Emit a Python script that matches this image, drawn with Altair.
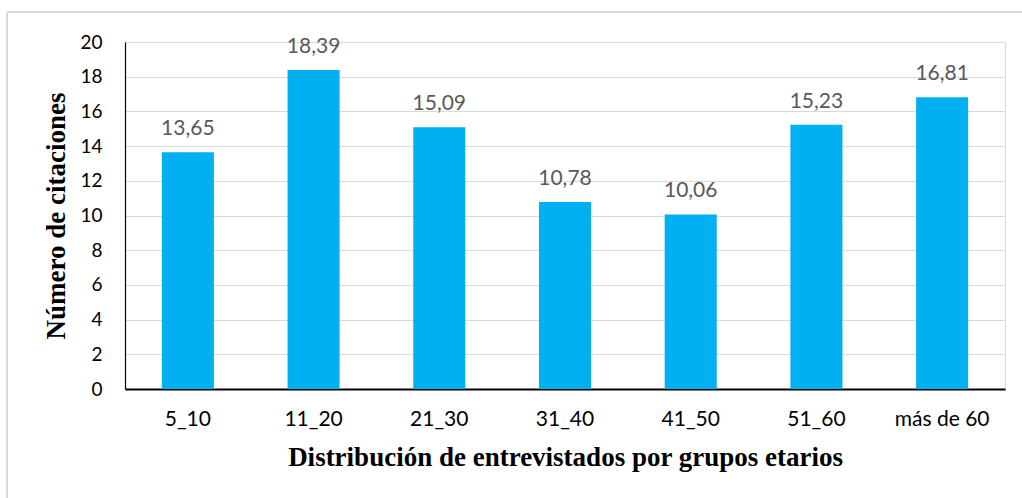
import altair as alt
import pandas as pd

# Age groups and mean number of citations per group
groups = ["5_10", "11_20", "21_30", "31_40", "41_50", "51_60", "más de 60"]
citations = [13.65, 18.39, 15.09, 10.78, 10.06, 15.23, 16.81]
value_labels = ["13,65", "18,39", "15,09", "10,78", "10,06", "15,23", "16,81"]
y_ticks = [0, 2, 4, 6, 8, 10, 12, 14, 16, 18, 20]

df = pd.DataFrame({"grupo": groups, "citas": citations, "etiqueta": value_labels})

PLOT_W, PLOT_H = 880, 347
SANS = "Lato"
SERIF = "Liberation Serif"

x_enc = alt.X(
    "grupo:N",
    sort=groups,
    title="Distribución de entrevistados por grupos etarios",
    scale=alt.Scale(paddingInner=0.586, paddingOuter=0.293),
    axis=alt.Axis(
        labelAngle=0,
        labelFont=SANS,
        labelFontSize=21,
        labelColor="#000000",
        labelPadding=19,
        ticks=False,
        domainColor="#000000",
        domainWidth=2,
        titleFont=SERIF,
        titleFontSize=27,
        titleFontWeight="bold",
        titleColor="#000000",
        titlePadding=15,
    ),
)

y_enc = alt.Y(
    "citas:Q",
    title="Número de citaciones",
    scale=alt.Scale(domain=[0, 20], nice=False),
    axis=alt.Axis(
        values=y_ticks,
        labelOverlap=False,
        labelFont=SANS,
        labelFontSize=19,
        labelColor="#000000",
        labelPadding=23,
        ticks=False,
        domainColor="#000000",
        domainWidth=1.2,
        grid=True,
        gridColor="#D9D9D9",
        gridWidth=1.2,
        titleFont=SERIF,
        titleFontSize=27,
        titleFontWeight="bold",
        titleColor="#000000",
        titlePadding=9,
    ),
)

bars = alt.Chart(df).mark_bar(color="#00B0F0").encode(x=x_enc, y=y_enc)

labels = alt.Chart(df).mark_text(
    font=SANS,
    fontSize=21,
    color="#595959",
    baseline="alphabetic",
    dy=-17,
).encode(
    x=x_enc,
    y=y_enc,
    text="etiqueta:N",
)

# Light frame around the chart (left and top edges)
frame_top = alt.Chart(df).mark_rule(color="#D9D9D9", strokeWidth=1.2, clip=False).encode(
    x=alt.value(-118), x2=alt.value(PLOT_W + 40), y=alt.value(-30)
)
frame_left = alt.Chart(df).mark_rule(color="#D9D9D9", strokeWidth=1.2, clip=False).encode(
    x=alt.value(-118), y=alt.value(-30), y2=alt.value(PLOT_H + 140)
)

chart = (
    alt.layer(bars, labels, frame_top, frame_left)
    .properties(
        width=PLOT_W,
        height=PLOT_H,
        autosize=alt.AutoSizeParams(type="none"),
        padding={"left": 125, "top": 42, "right": 17, "bottom": 109},
    )
    .configure_view(stroke=None)
    .configure(background="#FFFFFF")
)

chart.save("out.html", embed_options={"renderer": "svg", "actions": False})
